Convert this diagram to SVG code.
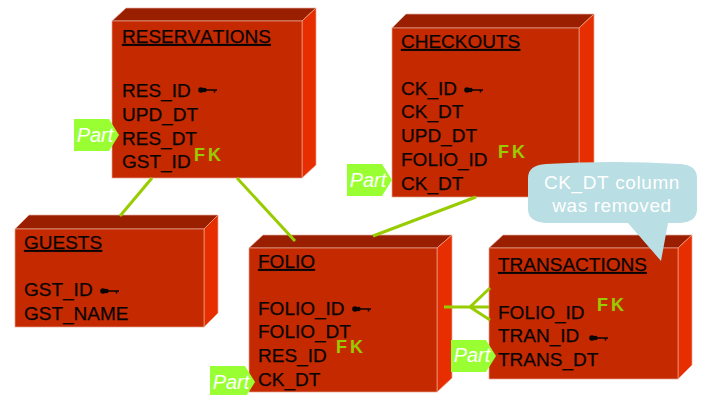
<svg xmlns="http://www.w3.org/2000/svg" width="702" height="395" viewBox="0 0 702 395">
<style>
.front{fill:#C42900;stroke:#E8A48F;stroke-width:.7}
.top{fill:#991F00;stroke:#E8B0A0;stroke-width:.7}
.side{fill:#E62E00;stroke:#EFA58F;stroke-width:.7}
text{font-family:"Liberation Sans",Arial,sans-serif;font-kerning:none}
.h{font-size:19px;fill:#0a0505;stroke:#0a0505;stroke-width:.25;text-decoration:underline}
.f{font-size:19px;fill:#0a0505;stroke:#0a0505;stroke-width:.25}
.fk{font-size:18px;font-weight:bold;fill:#99CC00;word-spacing:-2px}
.part{fill:#99FF33}
.pt{font-size:20px;font-style:italic;fill:#fff;text-anchor:middle}
.conn{stroke:#99CC00;stroke-width:3;fill:none}
.note{font-size:19px;fill:#fff;text-anchor:middle;letter-spacing:.6px}
</style>
<defs>
<g id="key"><circle cx="3" cy="0" r="2.800" fill="#0a0505"/><circle cx="6.500" cy="0" r="2.200" fill="#0a0505"/><path d="M7 0H19M16.500 0V2.500" stroke="#0a0505" stroke-width="1.500" fill="none"/></g>
<polygon id="tag" points="0,0 35,0 45,16 35,32 0,32"/>
</defs>

<g id="reservations">
<polygon class="top" points="112,21 126,8 316,8 302,21"/><polygon class="side" points="302,21 316,8 316,165 302,178"/><rect class="front" x="112" y="21" width="190" height="157"/>
<text class="h" x="122" y="43">RESERVATIONS</text>
<text class="f" x="122" y="97">RES_ID</text><use href="#key" x="198" y="90"/>
<text class="f" x="122" y="121">UPD_DT</text><text class="f" x="122" y="145">RES_DT</text><text class="f" x="122" y="168">GST_ID</text>
<text class="fk" x="194" y="161">F K</text>
<use class="part" href="#tag" x="74" y="119"/><text class="pt" x="95" y="142">Part</text>
</g>

<g id="checkouts">
<polygon class="top" points="392,28 406,14 594,14 579,28"/><polygon class="side" points="579,28 594,14 594,183 579,197"/><rect class="front" x="392" y="28" width="187" height="169"/>
<text class="h" x="401" y="48">CHECKOUTS</text>
<text class="f" x="401" y="95">CK_ID</text><use href="#key" x="464" y="90"/>
<text class="f" x="401" y="118">CK_DT</text><text class="f" x="401" y="142">UPD_DT</text><text class="f" x="401" y="166">FOLIO_ID</text><text class="f" x="401" y="190">CK_DT</text>
<text class="fk" x="498" y="158">F K</text>
<use class="part" href="#tag" x="347" y="164"/><text class="pt" x="368" y="187">Part</text>
</g>

<g id="guests">
<polygon class="top" points="15,229 29,215 218,215 204,229"/><polygon class="side" points="204,229 218,215 218,313 204,327"/><rect class="front" x="15" y="229" width="189" height="98"/>
<text class="h" x="24" y="249">GUESTS</text>
<text class="f" x="24" y="296">GST_ID</text><use href="#key" x="100" y="291"/>
<text class="f" x="24" y="320">GST_NAME</text>
</g>

<g id="folio">
<polygon class="top" points="249,248 263,235 452,235 437,248"/><polygon class="side" points="437,248 452,235 452,378 437,392"/><rect class="front" x="249" y="248" width="188" height="144"/>
<text class="h" x="258" y="268">FOLIO</text>
<text class="f" x="258" y="315">FOLIO_ID</text><use href="#key" x="352" y="309"/>
<text class="f" x="258" y="338">FOLIO_DT</text><text class="f" x="258" y="362">RES_ID</text><text class="f" x="258" y="386">CK_DT</text>
<text class="fk" x="336" y="353">F K</text>
<use class="part" href="#tag" x="210" y="366"/><text class="pt" x="231" y="389">Part</text>
</g>

<g id="transactions">
<polygon class="top" points="489,248 503,235 692,235 678,248"/><polygon class="side" points="678,248 692,235 692,365 678,379"/><rect class="front" x="489" y="248" width="189" height="131"/>
<text class="h" x="498" y="271">TRANSACTIONS</text>
<text class="f" x="498" y="319">FOLIO_ID</text><text class="f" x="498" y="342">TRAN_ID</text><use href="#key" x="589" y="338"/>
<text class="f" x="498" y="366">TRANS_DT</text>
<text class="fk" x="597" y="311">F K</text>
<use class="part" href="#tag" x="451" y="340"/><text class="pt" x="472" y="362">Part</text>
</g>

<g id="connectors">
<line class="conn" x1="152" y1="178" x2="120" y2="216"/>
<line class="conn" x1="237" y1="178" x2="295" y2="241"/>
<line class="conn" x1="476" y1="197" x2="373" y2="236"/>
<path class="conn" d="M444 307H489M490 288L470 307L490 320"/>
</g>

<g id="callout">
<path d="M546 164Q612 160 680 164Q697 165 697 178V209Q697 222 680 223H668L661 261L628 223H546Q528 222 528 209V178Q528 165 546 164Z" fill="#B9DEE3"/>
<text class="note" x="612" y="189">CK_DT column</text>
<text class="note" x="612" y="212">was removed</text>
</g>
</svg>
